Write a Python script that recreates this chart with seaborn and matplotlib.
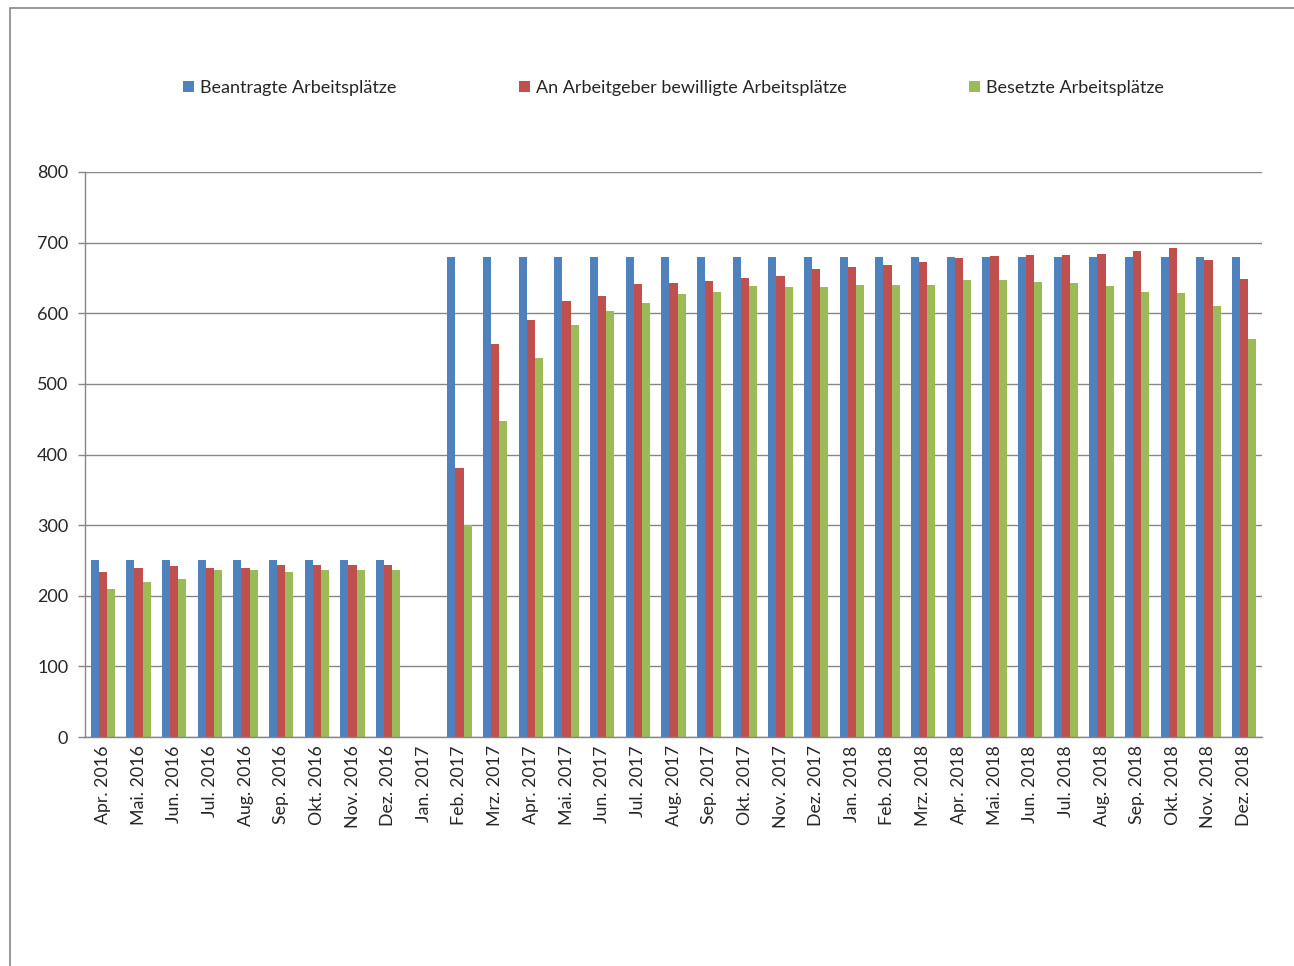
import matplotlib
matplotlib.use("Agg")
import numpy as np
import pandas as pd
import matplotlib.pyplot as plt
import seaborn as sns
from matplotlib.patches import Patch, Rectangle

monate = ["Apr. 2016", "Mai. 2016", "Jun. 2016", "Jul. 2016", "Aug. 2016", "Sep. 2016",
          "Okt. 2016", "Nov. 2016", "Dez. 2016", "Jan. 2017", "Feb. 2017", "Mrz. 2017",
          "Apr. 2017", "Mai. 2017", "Jun. 2017", "Jul. 2017", "Aug. 2017", "Sep. 2017",
          "Okt. 2017", "Nov. 2017", "Dez. 2017", "Jan. 2018", "Feb. 2018", "Mrz. 2018",
          "Apr. 2018", "Mai. 2018", "Jun. 2018", "Jul. 2018", "Aug. 2018", "Sep. 2018",
          "Okt. 2018", "Nov. 2018", "Dez. 2018"]

beantragt = [250, 250, 250, 250, 250, 250, 250, 250, 250, np.nan,
             680, 680, 680, 680, 680, 680, 680, 680, 680, 680, 680,
             680, 680, 680, 680, 680, 680, 680, 680, 680, 680, 680, 680]
bewilligt = [234, 240, 242, 240, 240, 243, 243, 243, 244, np.nan,
             381, 556, 590, 617, 624, 642, 643, 645, 650, 653, 663,
             666, 668, 672, 678, 681, 683, 683, 684, 688, 692, 675, 649]
besetzt = [210, 219, 224, 237, 237, 234, 236, 236, 237, np.nan,
           300, 448, 537, 583, 603, 615, 627, 630, 639, 637, 637,
           640, 640, 640, 647, 647, 644, 643, 639, 630, 628, 610, 563]

serien = ["Beantragte Arbeitsplätze", "An Arbeitgeber bewilligte Arbeitsplätze",
          "Besetzte Arbeitsplätze"]
farben = ["#4F81BD", "#C0504D", "#9BBB59"]

df = pd.DataFrame({
    "Monat": monate * 3,
    "Serie": [serien[0]] * len(monate) + [serien[1]] * len(monate) + [serien[2]] * len(monate),
    "Wert": beantragt + bewilligt + besetzt,
})

sns.set_style("white")
plt.rcParams["font.family"] = ["Lato", "DejaVu Sans"]
grau = "#868686"

fig = plt.figure(figsize=(12.94, 9.66), dpi=100)
ax = fig.add_axes([85 / 1294, 1 - 737 / 966, (1262 - 85) / 1294, (737 - 172) / 966])

sns.barplot(data=df, x="Monat", y="Wert", hue="Serie", order=monate, hue_order=serien,
            palette=farben, width=0.68, errorbar=None, legend=False, ax=ax,
            saturation=1, linewidth=0)

ax.set_ylim(0, 800)
ax.set_xlim(-0.5, len(monate) - 0.5)
ax.set_yticks(range(0, 801, 100))
ax.yaxis.grid(True, color=grau, linewidth=1)
ax.set_axisbelow(True)
ax.set_xlabel("")
ax.set_ylabel("")

for s in ["top", "right"]:
    ax.spines[s].set_visible(False)
for s in ["left", "bottom"]:
    ax.spines[s].set_color(grau)
    ax.spines[s].set_linewidth(1)

ax.set_xticks(range(len(monate)))
ax.set_xticklabels(monate, rotation=90, fontsize=12.8)
ax.set_xticks(np.arange(-0.5, len(monate), 1), minor=True)
ax.tick_params(axis="x", which="major", length=0, pad=6)
ax.tick_params(axis="x", which="minor", length=6, color=grau, width=1)
ax.tick_params(axis="y", length=5, color=grau, width=1, labelsize=13, pad=7, left=True)

handles = [Patch(facecolor=c, edgecolor="none") for c in farben]
fig.legend(handles, serien, loc="center", bbox_to_anchor=(0.5205, 1 - 88 / 966), ncol=3,
           frameon=False, fontsize=13, handlelength=0.6, handleheight=0.6,
           handletextpad=0.33, columnspacing=6.8)

# Rahmen des Diagrammbereichs
fig.patches.append(Rectangle((10 / 1294, -0.1), 1.2, 1 - 8 / 966 + 0.1, transform=fig.transFigure,
                             fill=False, edgecolor=grau, linewidth=1.2))

fig.savefig("out.png", dpi=100)
plt.close(fig)
